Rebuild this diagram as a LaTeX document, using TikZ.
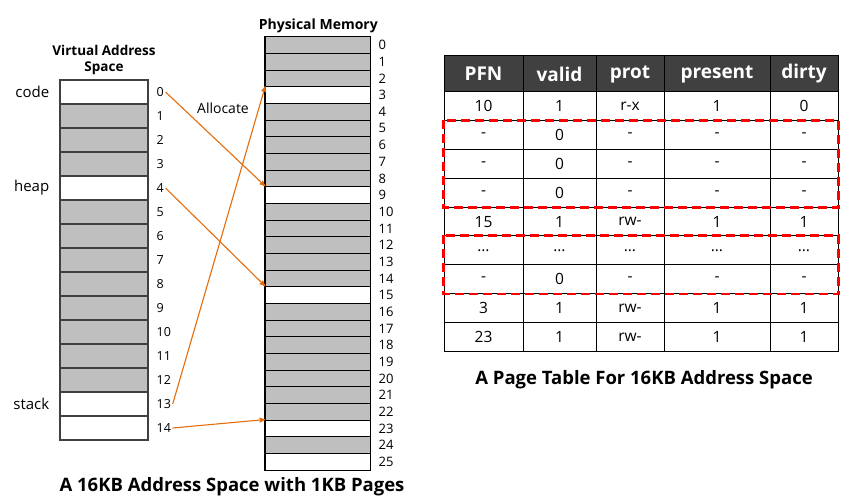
\documentclass[tikz,border=0pt]{standalone}
\usepackage{fontspec}
\setmainfont{Open Sans}
\usepackage{tikz}
\usetikzlibrary{arrows, positioning}
\definecolor{pageGray}{RGB}{191,191,191}
\definecolor{headGray}{RGB}{64,64,64}
\definecolor{allocOrange}{RGB}{228,108,10}
\tikzstyle{vaPage}=[draw=black!75, line width=1.2pt, minimum width=88pt, minimum height=24pt, inner sep=0pt]
\tikzstyle{pmPage}=[draw=black, line width=1pt, minimum width=105pt, minimum height=16.67pt, inner sep=0pt]
\tikzstyle{pageNum}=[font=\fontsize{12.5}{14}\selectfont, inner sep=1.5pt, anchor=west]
\tikzstyle{memLabel}=[font=\fontsize{15}{18}\selectfont, inner sep=2pt]
\tikzstyle{memTitle}=[font=\fontsize{13.5}{16}\selectfont\bfseries, align=center, inner sep=1pt]
\tikzstyle{arrow}=[->, >=stealth', line width=1.1pt, draw=allocOrange]
\tikzstyle{cell}=[draw=black, line width=1pt, minimum height=28.8pt, inner sep=0pt, font=\fontsize{15.5}{18}\selectfont]
\tikzstyle{headCell}=[cell, fill=headGray, text=white, minimum height=36pt, font=\fontsize{19}{22}\selectfont\bfseries]
\tikzstyle{invalidBox}=[draw=red, line width=2.8pt, dash pattern=on 9pt off 5pt]
\tikzstyle{caption}=[font=\fontsize{18.5}{22}\selectfont\bfseries]

\begin{document}
\begin{tikzpicture}[x=1pt, y=-1pt]
  \useasboundingbox (0,0) rectangle (852,502);

  % virtual address space, 15 pages
  \foreach \i in {0,...,14}{
    \pgfmathtruncatemacro\isfree{(\i==0)||(\i==4)||(\i==13)||(\i==14)}
    \ifnum\isfree=1 \def\pagefill{white}\else\def\pagefill{pageGray}\fi
    \node[vaPage, fill=\pagefill] (va\i) at (104, 92+24*\i) {};
    \node[pageNum] (vaNum\i) at (155, 92+24*\i) {\i};
  }
  \node[memTitle, above=3pt of va0] (vaTitle) {Virtual Address\\Space};
  \node[memLabel, left=8pt of va0] (codeLbl) {code};
  \node[memLabel, left=8pt of va4] (heapLbl) {heap};
  \node[memLabel, left=8pt of va13] (stackLbl) {stack};

  % physical memory, 26 frames
  \foreach \i in {0,...,25}{
    \pgfmathtruncatemacro\isfree{(\i==3)||(\i==9)||(\i==15)||(\i==23)||(\i==25)}
    \ifnum\isfree=1 \def\pagefill{white}\else\def\pagefill{pageGray}\fi
    \node[pmPage, fill=\pagefill] (pm\i) at (318.3, 45+16.67*\i) {};
    \node[pageNum, font=\fontsize{13}{15}\selectfont] (pmNum\i) at (377, 45+16.67*\i) {\i};
  }
  \draw[line width=2pt] (pm0.north west) -- (pm25.south west);
  \node[memTitle, font=\fontsize{14}{16}\selectfont\bfseries, above=2pt of pm0] (pmTitle) {Physical Memory};

  \node[memLabel, font=\fontsize{14}{16}\selectfont] (allocLbl) at (223,108) {Allocate};
  \draw[arrow] (vaNum0.east) -- (pm9.north west);
  \draw[arrow] (vaNum4.east) -- (pm15.north west);
  \draw[arrow] (vaNum13.east) -- (pm3.north west);
  \draw[arrow] (vaNum14.east) -- (pm23.north west);

  \node[caption] (vaCaption) at (232,487) {A 16KB Address Space with 1KB Pages};

  % page table
  \node[headCell, minimum width=79pt] (pt0-1) at (483.5,74) {PFN};
  \node[headCell, minimum width=73pt] (pt0-2) at (559.5,74) {valid};
  \node[headCell, minimum width=68pt] (pt0-3) at (630,74) {prot};
  \node[headCell, minimum width=106pt] (pt0-4) at (717,74) {present};
  \node[headCell, minimum width=68pt] (pt0-5) at (804,74) {dirty};
  \foreach \r/\a/\b/\c/\d/\e in {1/10/1/r-x/1/0, 2/-/0/-/-/-, 3/-/0/-/-/-,
      4/-/0/-/-/-, 5/15/1/rw-/1/1, 6/\dots/\dots/\dots/\dots/\dots,
      7/-/0/-/-/-, 8/3/1/rw-/1/1, 9/23/1/rw-/1/1}{
    \node[cell, minimum width=79pt] (pt\r-1) at (483.5, 77.6+28.8*\r) {\a};
    \node[cell, minimum width=73pt] (pt\r-2) at (559.5, 77.6+28.8*\r) {\b};
    \node[cell, minimum width=68pt] (pt\r-3) at (630, 77.6+28.8*\r) {\c};
    \node[cell, minimum width=106pt] (pt\r-4) at (717, 77.6+28.8*\r) {\d};
    \node[cell, minimum width=68pt] (pt\r-5) at (804, 77.6+28.8*\r) {\e};
  }
  \draw[invalidBox] (pt2-1.north west) rectangle (pt4-5.south east);
  \draw[invalidBox] (pt6-1.north west) rectangle (pt7-5.south east);

  \node[caption] (ptCaption) at (644,380) {A Page Table For 16KB Address Space};
\end{tikzpicture}
\end{document}
